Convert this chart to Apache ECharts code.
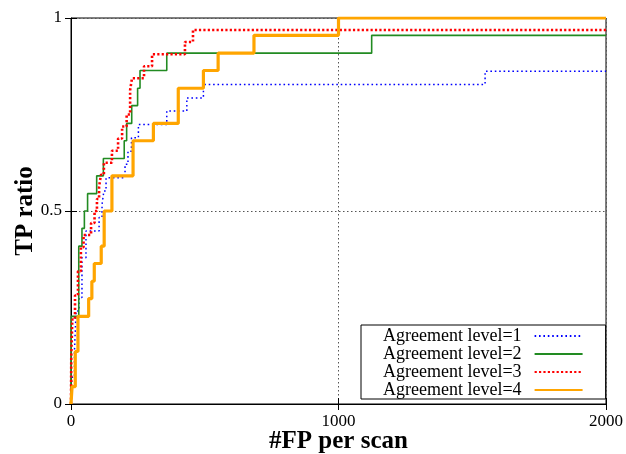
<!DOCTYPE html>
<html><head><meta charset="utf-8">
<script src="https://cdn.jsdelivr.net/npm/echarts@6/dist/echarts.min.js"></script>
<style>html,body{margin:0;padding:0;background:#fff}#c{width:626px;height:454px}</style>
</head><body><div id="c"></div>
<script>
// Names
const seriesNames = ['Agreement level=1', 'Agreement level=2', 'Agreement level=3', 'Agreement level=4'];
// Tick labels
const xTicks = [0, 1000, 2000];
const yTicks = [0, 0.5, 1];

// Level 1 (blue dotted)
const fp1 = [0, 3, 13, 19, 30, 41, 56, 105, 116, 123, 131, 202, 213, 226, 252, 358, 433, 495, 1548, 2000];
const tp1 = [0, 0.069, 0.138, 0.241, 0.276, 0.379, 0.448, 0.483, 0.517, 0.552, 0.586, 0.621, 0.655, 0.690, 0.724, 0.759, 0.793, 0.828, 0.862, 0.862];
// Level 2 (green solid)
const fp2 = [0, 1, 29, 41, 50, 62, 96, 121, 199, 208, 227, 249, 258, 358, 1124, 2000];
const tp2 = [0, 0.227, 0.409, 0.455, 0.5, 0.545, 0.591, 0.636, 0.682, 0.727, 0.773, 0.818, 0.864, 0.909, 0.955, 0.955];
// Level 3 (red dotted)
const fp3 = [0, 1, 5, 15, 26, 37, 47, 75, 88, 97, 105, 112, 123, 153, 176, 191, 208, 221, 228, 273, 303, 426, 456, 2000];
const tp3 = [0, 0.125, 0.219, 0.281, 0.344, 0.406, 0.438, 0.469, 0.5, 0.531, 0.563, 0.594, 0.625, 0.656, 0.688, 0.719, 0.75, 0.813, 0.844, 0.875, 0.906, 0.938, 0.969, 0.969];
// Level 4 (orange thick)
const fp4 = [0, 4, 16, 26, 66, 78, 87, 113, 124, 153, 232, 308, 401, 495, 550, 684, 1000, 2000];
const tp4 = [0, 0.045, 0.136, 0.227, 0.273, 0.318, 0.364, 0.409, 0.5, 0.591, 0.682, 0.727, 0.818, 0.864, 0.909, 0.955, 1, 1];

const pair = (xs, ys) => xs.map((x, i) => [x, ys[i]]);
const styles = [
  { color: '#0000ff', width: 1.5, type: [1.6, 2.8] },
  { color: '#228b22', width: 1.6, type: 'solid' },
  { color: '#ff0000', width: 2.6, type: [2.2, 2.2] },
  { color: '#ffa500', width: 3.2, type: 'solid' }
];
const data = [pair(fp1, tp1), pair(fp2, tp2), pair(fp3, tp3), pair(fp4, tp4)];

const serif = 'Liberation Serif, Times New Roman, serif';
const chart = echarts.init(document.getElementById('c'), null, { renderer: 'canvas' });
const baseX = { type: 'value', min: xTicks[0], max: xTicks[2], interval: 1000 };
const baseY = { type: 'value', min: yTicks[0], max: yTicks[2], interval: 0.5 };
chart.setOption({
  animation: false,
  backgroundColor: '#fff',
  grid: { left: 71, right: 20, top: 18, bottom: 50, containLabel: false, outerBoundsMode: 'none',
          show: true, borderColor: '#000', borderWidth: 1, backgroundColor: 'transparent' },
  xAxis: [
    Object.assign({}, baseX, {
      name: '#FP per scan', nameLocation: 'middle', nameGap: 25, nameMoveOverlap: false,
      nameTextStyle: { fontFamily: serif, fontSize: 25, fontWeight: 'bold', color: '#000' },
      axisLine: { show: true, lineStyle: { color: '#000', width: 1 } },
      axisTick: { show: true, inside: true, length: 6, lineStyle: { color: '#000' } },
      axisLabel: { fontFamily: serif, fontSize: 17, color: '#000', margin: 9, formatter: v => String(v) },
      splitLine: { show: true, lineStyle: { color: '#555', width: 1, type: [1.5, 2.5] } }
    }),
    Object.assign({}, baseX, { position: 'top', axisLine: { show: false },
      axisTick: { show: true, inside: true, length: 6, lineStyle: { color: '#000' } },
      axisLabel: { show: false }, splitLine: { show: false } })
  ],
  yAxis: [
    Object.assign({}, baseY, {
      name: 'TP ratio', nameLocation: 'middle', nameGap: 33, nameMoveOverlap: false,
      nameTextStyle: { fontFamily: serif, fontSize: 25, fontWeight: 'bold', color: '#000' },
      axisLine: { show: true, lineStyle: { color: '#000', width: 1 } },
      axisTick: { show: true, inside: true, length: 6, lineStyle: { color: '#000' } },
      axisLabel: { fontFamily: serif, fontSize: 17, color: '#000', margin: 9, formatter: v => String(v) },
      splitLine: { show: true, lineStyle: { color: '#555', width: 1, type: [1.5, 2.5] } }
    }),
    Object.assign({}, baseY, { position: 'right', axisLine: { show: false },
      axisTick: { show: true, inside: true, length: 6, lineStyle: { color: '#000' } },
      axisLabel: { show: false }, splitLine: { show: false } })
  ],
  legend: {
    orient: 'vertical', left: 361, top: 325, align: 'right',
    itemWidth: 48, itemHeight: 14, itemGap: 0,
    padding: [2, 22, 0, 22], borderColor: '#000', borderWidth: 1, backgroundColor: '#fff',
    itemStyle: { opacity: 0 },
    textStyle: { fontFamily: serif, fontSize: 18, lineHeight: 18, color: '#000', padding: [0, 8, 0, 0] },
    data: seriesNames
  },
  series: seriesNames.map((n, i) => ({
    name: n, type: 'line', step: 'end', showSymbol: false, symbol: 'none',
    xAxisIndex: 0, yAxisIndex: 0,
    data: data[i],
    lineStyle: styles[i], itemStyle: { color: styles[i].color },
    z: 2 + i
  }))
});
</script></body></html>
